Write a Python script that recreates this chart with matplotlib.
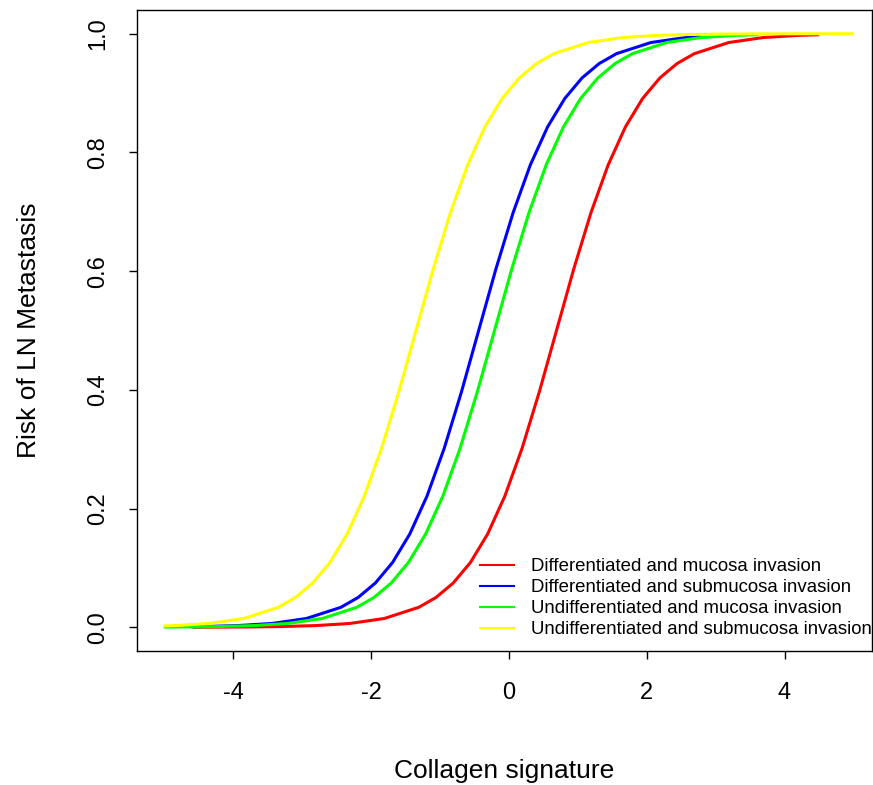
import matplotlib
matplotlib.use("Agg")
import matplotlib.pyplot as plt

plt.rcParams['font.family'] = ['Liberation Sans', 'DejaVu Sans']

# predicted risk per group
x_diff_muc = [-4.57, -4.31, -3.81, -3.31, -2.81, -2.31, -1.81, -1.31, -1.06, -0.81,
              -0.56, -0.31, -0.06, 0.19, 0.44, 0.69, 0.94, 1.19, 1.44, 1.69,
              1.94, 2.19, 2.44, 2.69, 3.19, 3.69, 4.19, 4.48]
y_diff_muc = [0.0001, 0.0002, 0.0005, 0.0012, 0.0028, 0.0064, 0.0148, 0.0336, 0.0502, 0.0745,
              0.1091, 0.1571, 0.2210, 0.3015, 0.3965, 0.5000, 0.6035, 0.6985, 0.7790, 0.8429,
              0.8909, 0.9255, 0.9498, 0.9664, 0.9852, 0.9936, 0.9972, 0.9983]

x_diff_sub = [-4.60, -4.44, -3.94, -3.44, -2.94, -2.44, -2.19, -1.94, -1.69, -1.44,
              -1.19, -0.94, -0.69, -0.44, -0.19, 0.06, 0.31, 0.56, 0.81, 1.06,
              1.31, 1.56, 2.06, 2.56, 2.77]
y_diff_sub = [0.0009, 0.0012, 0.0028, 0.0064, 0.0148, 0.0336, 0.0502, 0.0745, 0.1091, 0.1571,
              0.2210, 0.3015, 0.3965, 0.5000, 0.6035, 0.6985, 0.7790, 0.8429, 0.8909, 0.9255,
              0.9498, 0.9664, 0.9852, 0.9936, 0.9955]

x_undiff_muc = [-4.99, -4.71, -4.21, -3.71, -3.21, -2.71, -2.21, -1.96, -1.71, -1.46,
                -1.21, -0.96, -0.71, -0.46, -0.21, 0.04, 0.29, 0.54, 0.79, 1.04,
                1.29, 1.54, 1.79, 2.29, 2.79, 3.29, 3.60]
y_undiff_muc = [0.0003, 0.0005, 0.0012, 0.0028, 0.0064, 0.0148, 0.0336, 0.0502, 0.0745, 0.1091,
                0.1571, 0.2210, 0.3015, 0.3965, 0.5000, 0.6035, 0.6985, 0.7790, 0.8429, 0.8909,
                0.9255, 0.9498, 0.9664, 0.9852, 0.9936, 0.9972, 0.9983]

x_undiff_sub = [-4.99, -4.85, -4.35, -3.85, -3.35, -3.10, -2.85, -2.60, -2.35, -2.10,
                -1.85, -1.60, -1.35, -1.10, -0.85, -0.60, -0.35, -0.10, 0.15, 0.40,
                0.65, 1.15, 1.65, 2.15, 2.65, 3.15, 3.65, 4.15, 4.98]
y_undiff_sub = [0.0022, 0.0028, 0.0064, 0.0148, 0.0336, 0.0502, 0.0745, 0.1091, 0.1571, 0.2210,
                0.3015, 0.3965, 0.5000, 0.6035, 0.6985, 0.7790, 0.8429, 0.8909, 0.9255, 0.9498,
                0.9664, 0.9852, 0.9936, 0.9972, 0.9988, 0.9995, 0.9998, 0.9999, 1.0000]

labels = ["Differentiated and mucosa invasion",
          "Differentiated and submucosa invasion",
          "Undifferentiated and mucosa invasion",
          "Undifferentiated and submucosa invasion"]
colors = ["#ff0000", "#0000ff", "#00ff00", "#ffff00"]

fig = plt.figure(figsize=(8.73, 7.85), dpi=100)
ax = fig.add_axes([137/873, 1 - 651/785, 735/873, 641/785])

series = [(x_diff_muc, y_diff_muc), (x_diff_sub, y_diff_sub),
          (x_undiff_muc, y_undiff_muc), (x_undiff_sub, y_undiff_sub)]
for (xs, ys), c, lab in zip(series, colors, labels):
    ax.plot(xs, ys, color=c, lw=2.2, label=lab, solid_joinstyle="round")

ax.set_xlim(-5.40, 5.27)
ax.set_ylim(-0.04, 1.04)
ax.set_xticks([-4, -2, 0, 2, 4])
ax.set_yticks([0.0, 0.2, 0.4, 0.6, 0.8, 1.0])
ax.set_xticklabels(["-4", "-2", "0", "2", "4"])
ax.set_yticklabels(["0.0", "0.2", "0.4", "0.6", "0.8", "1.0"], rotation=90, va="center")
ax.tick_params(axis="both", labelsize=17, length=6, width=1, pad=14)
ax.tick_params(axis="x", pad=16)
for s in ax.spines.values():
    s.set_linewidth(1)

ax.set_xlabel("Collagen signature", fontsize=19, labelpad=40)
ax.set_ylabel("Risk of LN Metastasis", fontsize=19, labelpad=33)

leg = ax.legend(loc="upper left", bbox_to_anchor=(0.4667, 0.145), frameon=False,
                fontsize=13.4, handlelength=1.85, handletextpad=0.9, labelspacing=0.22,
                borderpad=0, borderaxespad=0)
for h in leg.get_lines():
    h.set_linewidth(1.5)

fig.savefig("out.png", dpi=100)
